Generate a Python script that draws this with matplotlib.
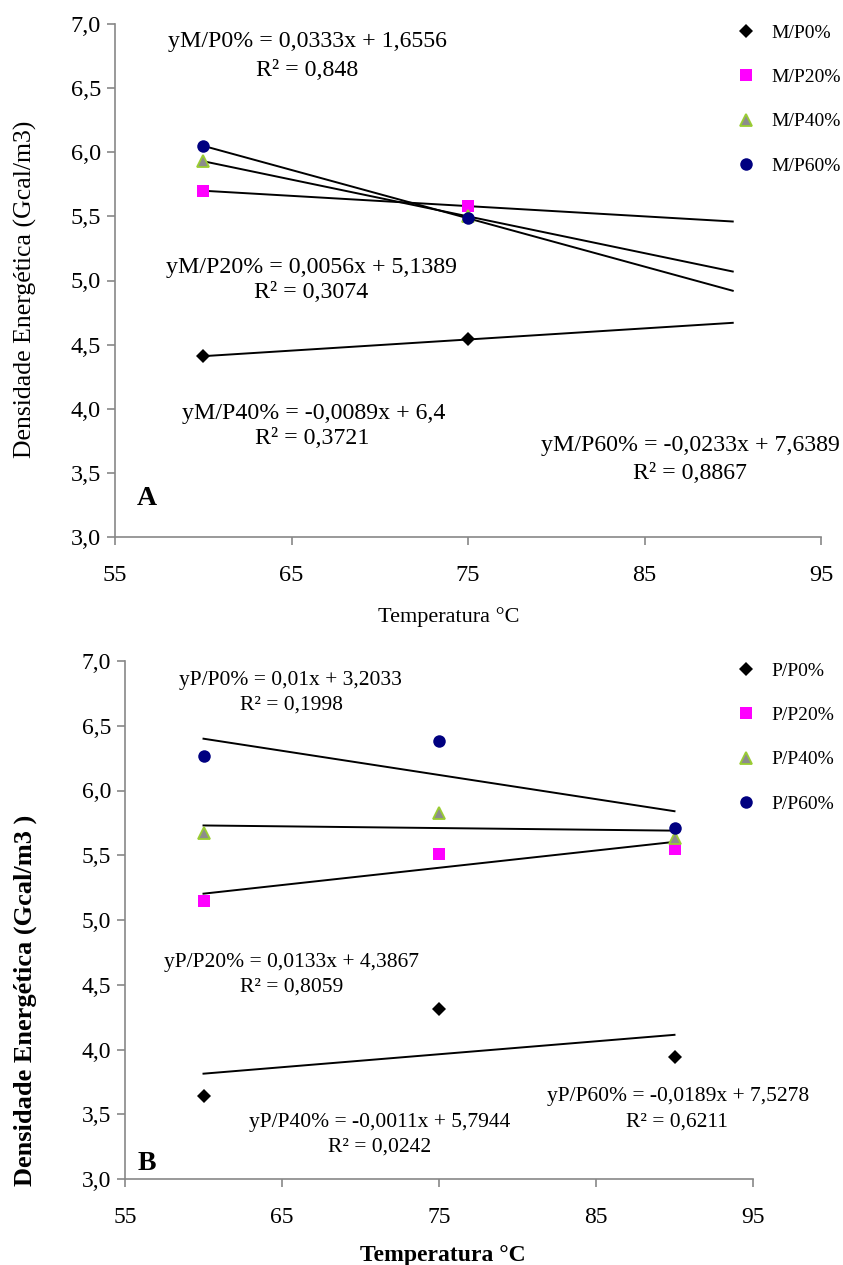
import matplotlib
matplotlib.use("Agg")
import matplotlib.pyplot as plt
import numpy as np
from matplotlib.lines import Line2D
from matplotlib.ticker import FuncFormatter

plt.rcParams['font.family'] = ['Liberation Serif', 'DejaVu Serif']
plt.rcParams['mathtext.fontset'] = 'custom'
plt.rcParams['mathtext.rm'] = 'Liberation Serif'
plt.rcParams['axes.formatter.use_mathtext'] = False

# ---------------- data ----------------
temps_A = [60, 75]
series_A = ["M/P0%", "M/P20%", "M/P40%", "M/P60%"]
mp0 = [4.41, 4.54]
mp20 = [5.70, 5.58]
mp40 = [5.93, 5.50]
mp60 = [6.05, 5.485]
eq_A = ["yM/P0% = 0,0333x + 1,6556", "yM/P20% = 0,0056x + 5,1389",
        "yM/P40% = -0,0089x + 6,4", "yM/P60% = -0,0233x + 7,6389"]
r2_A = ["R² = 0,848", "R² = 0,3074", "R² = 0,3721", "R² = 0,8867"]

temps_B = [60, 75, 90]
series_B = ["P/P0%", "P/P20%", "P/P40%", "P/P60%"]
pp0 = [3.64, 4.31, 3.94]
pp20 = [5.15, 5.51, 5.55]
pp40 = [5.67, 5.83, 5.63]
pp60 = [6.27, 6.38, 5.71]
eq_B = ["yP/P0% = 0,01x + 3,2033", "yP/P20% = 0,0133x + 4,3867",
        "yP/P40% = -0,0011x + 5,7944", "yP/P60% = -0,0189x + 7,5278"]
r2_B = ["R² = 0,1998", "R² = 0,8059", "R² = 0,0242", "R² = 0,6211"]

x_ticks = [55, 65, 75, 85, 95]
y_ticks = [3.0, 3.5, 4.0, 4.5, 5.0, 5.5, 6.0, 6.5, 7.0]
trend_range = [60, 90]

# ---------------- styles ----------------
styles = [
    dict(marker='D', color='black', mec='black', ms=7.5, mew=0),
    dict(marker='s', color='#FF00FF', mec='#FF00FF', ms=8, mew=0),
    dict(marker='^', color='#8C8C8C', mec='#9ACD32', ms=9, mew=1.3),
    dict(marker='o', color='#000080', mec='#000080', ms=9, mew=0),
]

W, H = 843, 1265
fig = plt.figure(figsize=(W / 100, H / 100), dpi=100)


def px_ax(left, top, right, bottom):
    return fig.add_axes([left / W, 1 - bottom / H, (right - left) / W, (bottom - top) / H])


def fx(x):
    return x / W


def fy(y):
    return 1 - y / H


grey = '#878787'
comma = FuncFormatter(lambda v, p: f"{v:.1f}".replace('.', ','))
intfmt = FuncFormatter(lambda v, p: f"{int(round(v))}")


def style_axes(ax, fs):
    ax.set_xlim(55, 95)
    ax.set_ylim(3.0, 7.0)
    ax.set_xticks(x_ticks)
    ax.set_yticks(y_ticks)
    ax.yaxis.set_major_formatter(comma)
    ax.xaxis.set_major_formatter(intfmt)
    for s in ['top', 'right']:
        ax.spines[s].set_visible(False)
    for s in ['left', 'bottom']:
        ax.spines[s].set_color(grey)
        ax.spines[s].set_linewidth(1.2)
    ax.tick_params(axis='both', direction='out', length=6, width=1.2, color=grey,
                   labelsize=fs, labelcolor='black')
    for lab in ax.get_xticklabels() + ax.get_yticklabels():
        lab.set_fontfamily('Liberation Serif')
    ax.tick_params(axis='x', pad=14)
    ax.tick_params(axis='y', pad=4)


def draw(ax, temps, ys_list, labels):
    handles = []
    xs = np.array(trend_range, dtype=float)
    for ys, st, lab in zip(ys_list, styles, labels):
        coef = np.polyfit(temps, ys, 1)
        ax.plot(xs, np.polyval(coef, xs), color='black', lw=1.4, zorder=2)
        ax.plot(temps, ys, linestyle='none', zorder=3, clip_on=False,
                marker=st['marker'], mfc=st['color'], mec=st['mec'], ms=st['ms'], mew=st['mew'])
        handles.append(Line2D([], [], linestyle='none', marker=st['marker'], mfc=st['color'],
                              mec=st['mec'], ms=st['ms'], mew=st['mew'], label=lab))
    return handles


# ---------------- Panel A ----------------
axA = px_ax(115, 24, 821, 537)
style_axes(axA, 17.5)
hA = draw(axA, temps_A, [mp0, mp20, mp40, mp60], series_A)
fig.legend(handles=hA, loc='upper left', bbox_to_anchor=(fx(736), fy(24)), frameon=False,
           fontsize=14, handlelength=1.0, handletextpad=0.8, labelspacing=1.38,
           borderpad=0, borderaxespad=0)
eqposA = [(307, 42), (312, 267), (314, 414), (690, 446)]
r2posA = [(307, 70), (311, 293), (312, 439), (690, 473)]
for t, (x, y) in zip(eq_A, eqposA):
    fig.text(fx(x), fy(y), t, ha='center', va='center', fontsize=17.2)
for t, (x, y) in zip(r2_A, r2posA):
    fig.text(fx(x), fy(y), t, ha='center', va='center', fontsize=17.2)
fig.text(fx(147), fy(499), "A", ha='center', va='center', fontsize=20, fontweight='bold')
fig.text(fx(449), fy(617), "Temperatura °C", ha='center', va='center', fontsize=16)
fig.text(fx(25), fy(289), "Densidade Energética (Gcal/m3)", ha='center', va='center',
         rotation=90, fontsize=18.5)

# ---------------- Panel B ----------------
axB = px_ax(125, 661, 753, 1179)
style_axes(axB, 17)
hB = draw(axB, temps_B, [pp0, pp20, pp40, pp60], series_B)
fig.legend(handles=hB, loc='upper left', bbox_to_anchor=(fx(736), fy(662)), frameon=False,
           fontsize=14, handlelength=1.0, handletextpad=0.8, labelspacing=1.38,
           borderpad=0, borderaxespad=0)
eqposB = [(290, 680), (292, 962), (380, 1122), (678, 1096)]
r2posB = [(291, 705), (292, 987), (380, 1147), (677, 1122)]
for t, (x, y) in zip(eq_B, eqposB):
    fig.text(fx(x), fy(y), t, ha='center', va='center', fontsize=15.5)
for t, (x, y) in zip(r2_B, r2posB):
    fig.text(fx(x), fy(y), t, ha='center', va='center', fontsize=15.5)
fig.text(fx(147), fy(1164), "B", ha='center', va='center', fontsize=20, fontweight='bold')
fig.text(fx(443), fy(1255), "Temperatura °C", ha='center', va='center', fontsize=17,
         fontweight='bold')
fig.text(fx(25), fy(1000), "Densidade Energética (Gcal/m3 )", ha='center', va='center',
         rotation=90, fontsize=19, fontweight='bold')

fig.savefig("out.png", dpi=100)
